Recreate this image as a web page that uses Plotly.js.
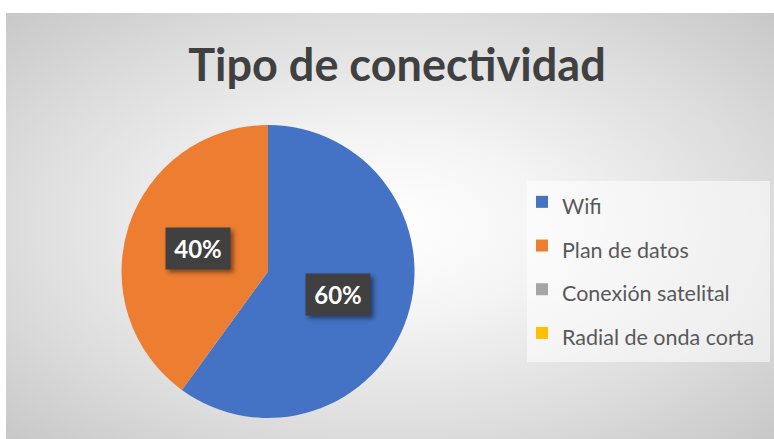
<!DOCTYPE html>
<html>
<head>
<meta charset="utf-8">
<script src="https://cdn.plot.ly/plotly-3.0.1.min.js"></script>
<style>
  html, body { margin: 0; padding: 0; background: #ffffff; }
  #wrap { position: relative; width: 774px; height: 439px; overflow: hidden; }
  #bg { position: absolute; left: 6px; top: 13px; width: 768px; height: 426px;
        background: radial-gradient(ellipse farthest-corner at 50% 50%, #ffffff 0%, #f4f4f4 30%, #dcdcdc 70%, #c8c8c8 100%); }
  #chart { position: absolute; left: 0; top: 0; width: 774px; height: 439px; }
  .annotation rect.bg { filter: drop-shadow(3px 3px 2px rgba(0,0,0,0.45)); }
</style>
</head>
<body>
<div id="wrap"><div id="bg"></div><div id="chart"></div></div>
<script>
const categories = ["Wifi", "Plan de datos", "Conexión satelital", "Radial de onda corta"];
const values = [60, 40, 0, 0];
const colors = ["#4472C4", "#ED7D31", "#A5A5A5", "#FFC000"];
const chartTitle = "Tipo de conectividad";

const W = 774, H = 439;
const dom = { x: [0.15504, 0.53747], y: [0.04784, 0.71526] };
const total = values.reduce((a, b) => a + b, 0);

// label boxes placed along each slice's mid-angle, derived from the values
const Rpx = Math.min((dom.x[1] - dom.x[0]) * W, (dom.y[1] - dom.y[0]) * H) / 2;
const cx = (dom.x[0] + dom.x[1]) / 2, cy = (dom.y[0] + dom.y[1]) / 2;
const annotations = [];
let cum = 0;
values.forEach((v, i) => {
  if (v > 0) {
    const th = 2 * Math.PI * (cum + v / 2) / total;
    annotations.push({
      xref: "paper", yref: "paper",
      x: cx + 0.5 * Rpx * Math.sin(th) / W,
      y: cy + 0.5 * Rpx * Math.cos(th) / H,
      text: "<b>" + Math.round(100 * v / total) + "%</b>",
      showarrow: false,
      font: { family: "Lato, 'Open Sans', sans-serif", size: 24, color: "#ffffff" },
      bgcolor: "#404040",
      width: 52, height: 29, borderpad: 6,
      xanchor: "center", yanchor: "middle"
    });
  }
  cum += v;
});

const trace = {
  type: "pie",
  labels: categories.map(c => '<span style="font-size:21.5px">' + c + '</span>'),
  values: values,
  marker: { colors: colors, line: { width: 0 } },
  sort: false,
  direction: "clockwise",
  rotation: 0,
  textinfo: "none",
  hoverinfo: "none",
  domain: dom,
  showlegend: true
};

const layout = {
  width: W, height: H,
  margin: { l: 0, r: 0, t: 0, b: 0 },
  paper_bgcolor: "rgba(0,0,0,0)",
  plot_bgcolor: "rgba(0,0,0,0)",
  title: {
    text: "<b>" + chartTitle + "</b>",
    font: { family: "Lato, 'Open Sans', sans-serif", size: 45, color: "#404040" },
    x: 397 / W, xanchor: "center", xref: "paper",
    y: 1 - 65 / H, yanchor: "middle", yref: "paper"
  },
  showlegend: true,
  legend: {
    x: 522 / W, xanchor: "left",
    y: 1 - 175 / H, yanchor: "top",
    bgcolor: "rgba(0,0,0,0)",
    font: { family: "Lato, 'Open Sans', sans-serif", size: 31.3, color: "#595959" },
    traceorder: "normal"
  },
  shapes: [{
    type: "rect", xref: "paper", yref: "paper", layer: "below",
    x0: 527 / W, x1: 770 / W, y0: 1 - 362 / H, y1: 1 - 181 / H,
    fillcolor: "rgba(255,255,255,0.55)", line: { width: 0 }
  }],
  annotations: annotations
};

Plotly.newPlot("chart", [trace], layout, { displayModeBar: false, staticPlot: true });
</script>
</body>
</html>
